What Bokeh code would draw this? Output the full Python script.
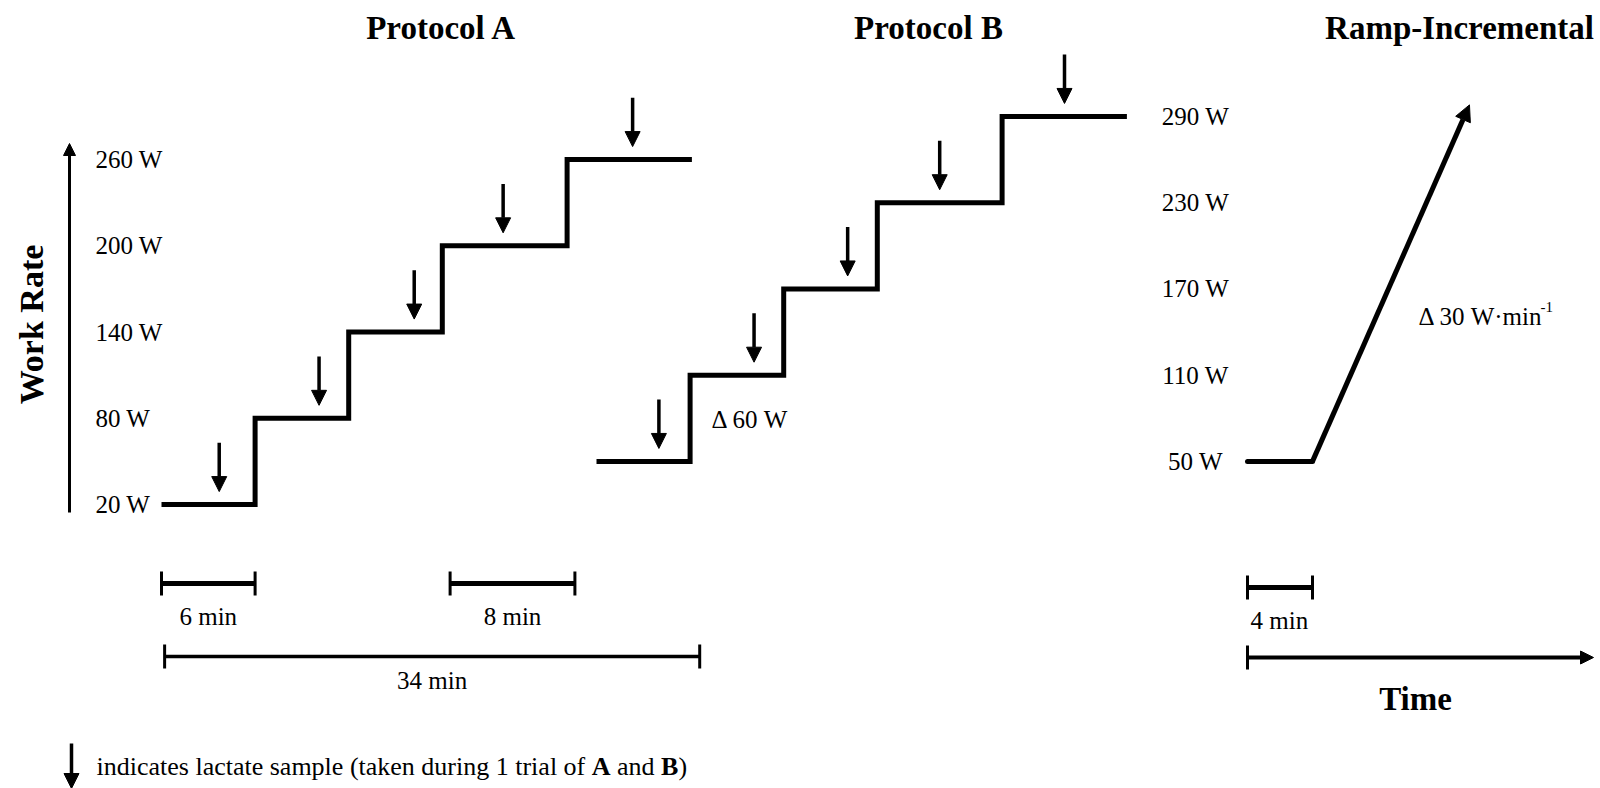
import numpy as np
from bokeh.plotting import figure
from bokeh.models import Range1d, Arrow, NormalHead, ColumnDataSource
from bokeh.core.properties import value
from bokeh.embed import file_html
from bokeh.resources import INLINE

# ---------------- data ----------------
titles = ["Protocol A", "Protocol B", "Ramp-Incremental"]
stage_start_min = [0, 6, 12, 18, 26]
total_min = 34
watts_a = [20, 80, 140, 200, 260]
watts_b = [50, 110, 170, 230, 290]
lactate_a_min = [3.7, 10.1, 16.2, 21.9, 30.2]
lactate_b_min = [4.0, 10.1, 16.1, 22.0, 30.0]
ramp_min = [0, 4, 13.66]
ramp_watts = [50, 50, 298]
bar_labels_a = ["6 min", "8 min"]
bar_start_a = [0, 18.5]
bar_end_a = [6, 26.5]
span_label_a = "34 min"
span_a = [0.2, 34.5]
ramp_bar_label = "4 min"
ramp_bar = [0, 4]
step_text = "Δ 60 W"
ramp_text = "Δ 30 W·min"
ramp_text_sup = "-1"
legend_prefix = "indicates lactate sample (taken during 1 trial of"

# ---------------- layout ----------------
W, H = 1600, 788
X0, X1, Y0, Y1 = 0, W, 0, H
A_X0, B_X0, PPM = 161, 596, 15.6
R_X0, R_PPM = 1247, 16.25
Y_20W, PPW = 504, 1.4375
FONT = value("Liberation Serif")
FS = "25px"


def trange(x0, ppm):
    return Range1d((X0 - x0) / ppm, (X1 - x0) / ppm)


p = figure(width=W, height=H, x_range=Range1d(X0, X1), y_range=Range1d(Y1, Y0),
           x_axis_type=None, y_axis_type=None, output_backend="svg",
           toolbar_location=None, min_border=0)
p.outline_line_color = None
p.background_fill_color = "white"
p.border_fill_color = "white"
p.extra_x_ranges = {"a": trange(A_X0, PPM), "b": trange(B_X0, PPM), "r": trange(R_X0, R_PPM)}
p.extra_y_ranges = {"w": Range1d(20 - (Y1 - Y_20W) / PPW, 20 + (Y_20W - Y0) / PPW)}

# step protocols
xs = stage_start_min + [total_min]
for rng, wts in (("a", watts_a), ("b", watts_b)):
    p.step(xs, wts + [wts[-1]], mode="after", x_range_name=rng, y_range_name="w",
           line_width=5, line_color="black", line_join="miter")

# lactate arrows
for rng, times, wts in (("a", lactate_a_min, watts_a), ("b", lactate_b_min, watts_b)):
    lv = [wts[int(np.searchsorted(stage_start_min, t, side="right")) - 1] for t in times]
    src = ColumnDataSource(dict(x=times, ys=[v + 43 for v in lv], ye=[v + 9 for v in lv]))
    p.add_layout(Arrow(source=src, x_start="x", y_start="ys", x_end="x", y_end="ye",
                       x_range_name=rng, y_range_name="w", line_width=3.5,
                       end=NormalHead(size=15, fill_color="black", line_color="black", line_width=1)))

# ramp
p.line(ramp_min[:2], ramp_watts[:2], x_range_name="r", y_range_name="w",
       line_width=5, line_color="black", line_cap="round")
p.add_layout(Arrow(x_start=ramp_min[1], y_start=ramp_watts[1], x_end=ramp_min[2], y_end=ramp_watts[2],
                   x_range_name="r", y_range_name="w", line_width=5,
                   end=NormalHead(size=16, fill_color="black", line_color="black", line_width=1)))

# work rate axis arrow
p.add_layout(Arrow(x_start=69, y_start=512, x_end=69, y_end=143, line_width=3,
                   end=NormalHead(size=12, fill_color="black", line_color="black", line_width=1)))
# time axis arrow
p.add_layout(Arrow(x_start=R_X0, y_start=657, x_end=1593, y_end=657, line_width=4,
                   end=NormalHead(size=13, fill_color="black", line_color="black", line_width=1)))
p.segment([R_X0], [645], [R_X0], [669], line_width=3, line_color="black")

# duration bars Protocol A
p.segment(bar_start_a, [583] * 2, bar_end_a, [583] * 2, x_range_name="a", line_width=5, line_color="black")
tk = bar_start_a + bar_end_a
p.segment(tk, [571] * 4, tk, [595] * 4, x_range_name="a", line_width=3, line_color="black")
p.segment([span_a[0]], [656], [span_a[1]], [656], x_range_name="a", line_width=3.5, line_color="black")
p.segment(span_a, [644] * 2, span_a, [668] * 2, x_range_name="a", line_width=3, line_color="black")
# ramp 4 min bar
p.segment([ramp_bar[0]], [587], [ramp_bar[1]], [587], x_range_name="r", line_width=5, line_color="black")
p.segment(ramp_bar, [575] * 2, ramp_bar, [599] * 2, x_range_name="r", line_width=3, line_color="black")

# legend arrow
p.add_layout(Arrow(x_start=71, y_start=743, x_end=71, y_end=788, line_width=3.5,
                   end=NormalHead(size=15, fill_color="black", line_color="black", line_width=1)))

# ---------------- texts ----------------
def txt(x, y, t, size=FS, align="left", bold=False, angle=0, **kw):
    p.text(x=x, y=y, text=t, text_font=FONT, text_font_size=size, text_align=align,
           text_baseline="middle", text_font_style="bold" if bold else "normal",
           text_color="black", angle=angle, **kw)

txt([441, 928, 1459], [27, 27, 27], titles, size="33px", align="center", bold=True)
txt([95] * 5, watts_a, [f"{w} W" for w in watts_a], y_range_name="w")
txt([1195] * 5, watts_b, [f"{w} W" for w in watts_b], align="center", y_range_name="w")
txt([711], [419], [step_text])
txt([1418], [316], [ramp_text])
txt([1540], [306], [ramp_text_sup], size="15px")
txt([(s + e) / 2 for s, e in zip(bar_start_a, bar_end_a)], [616, 616], bar_labels_a,
    align="center", x_range_name="a")
txt([(span_a[0] + span_a[1]) / 2], [680], [span_label_a], align="center", x_range_name="a")
txt([1250], [620], [ramp_bar_label])
txt([1415], [698], ["Time"], size="33px", align="center", bold=True)
txt([31], [324], ["Work Rate"], size="34px", align="center", bold=True, angle=np.pi / 2)

# legend with bold A and B
LF = 26
lx = 96
a_x = lx + 19.05 * LF
txt([lx], [766], [legend_prefix], size=f"{LF}px")
txt([a_x], [766], ["A"], size=f"{LF}px", bold=True)
and_x = a_x + (0.722 + 0.25) * LF
txt([and_x], [766], ["and"], size=f"{LF}px")
b_x = and_x + (1.444 + 0.25) * LF
txt([b_x], [766], ["B"], size=f"{LF}px", bold=True)
txt([b_x + 0.667 * LF], [766], [")"], size=f"{LF}px")

open("out.html", "w").write(file_html(p, INLINE))
